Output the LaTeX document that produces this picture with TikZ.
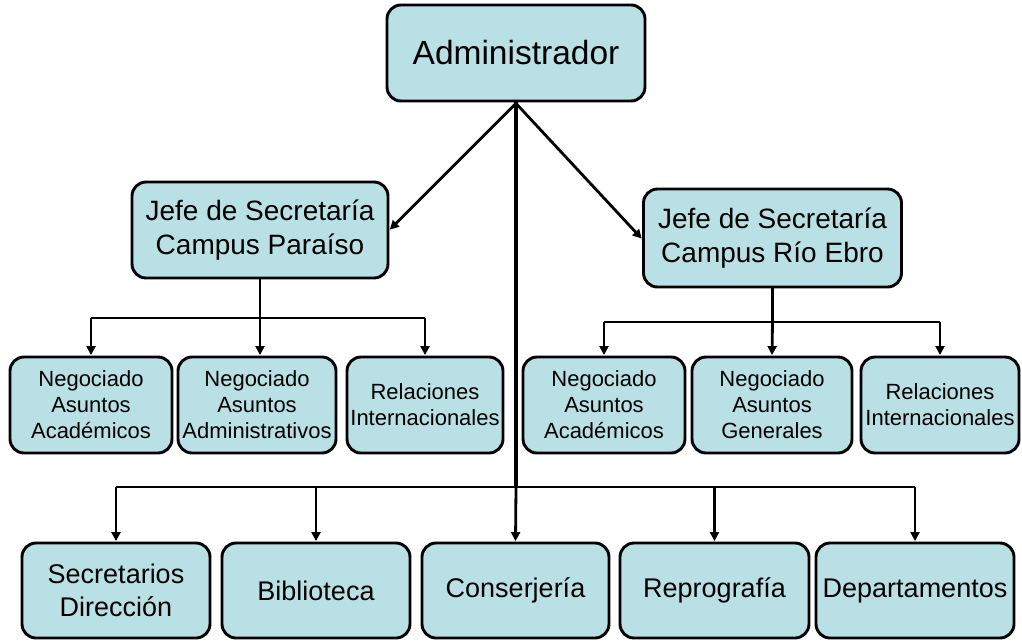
\documentclass[tikz,border=0pt]{standalone}
\usepackage{fontspec}
\setmainfont{Liberation Sans}
\usetikzlibrary{arrows.meta}
\definecolor{boxfill}{HTML}{B9E0E4}
\tikzset{
  box/.style={draw=black, fill=boxfill, line width=2.9pt, rounded corners=14pt,
    align=center, inner sep=0pt, text=black},
  conn/.style={draw=black, line width=2.8pt},
  arr/.style={conn, -{Triangle[length=9pt,width=9pt]}, shorten >=0.5pt},
  trunk/.style={draw=black, line width=3.8pt},
  big/.style={font=\fontsize{33.5}{40}\selectfont},
  mid/.style={font=\fontsize{28}{33.5}\selectfont},
  small/.style={font=\fontsize{22}{26}\selectfont},
  low/.style={font=\fontsize{27}{33}\selectfont},
}
\begin{document}
\begin{tikzpicture}[x=1pt,y=-1pt]
\useasboundingbox (0,0) rectangle (1022,641);
% top
\node[box,big,minimum width=258pt,minimum height=96pt] (admin) at (516,53) {Administrador};
\node[box,mid,minimum width=256pt,minimum height=96pt] (jp) at (260,230) {Jefe de Secretaría\\Campus Paraíso};
\node[box,mid,minimum width=258pt,minimum height=98pt] (je) at (772.5,238) {Jefe de Secretaría\\Campus Río Ebro};
% row 2 left
\node[box,small,minimum width=162pt,minimum height=96pt] (l1) at (91,405) {Negociado\\Asuntos\\Académicos};
\node[box,small,minimum width=158pt,minimum height=96pt] (l2) at (257,405) {Negociado\\Asuntos\\Administrativos};
\node[box,small,minimum width=156pt,minimum height=96pt] (l3) at (425,405) {Relaciones\\Internacionales};
% row 2 right
\node[box,small,minimum width=162pt,minimum height=96pt] (r1) at (604,405) {Negociado\\Asuntos\\Académicos};
\node[box,small,minimum width=160pt,minimum height=96pt] (r2) at (772,405) {Negociado\\Asuntos\\Generales};
\node[box,small,minimum width=158pt,minimum height=96pt] (r3) at (940,405) {Relaciones\\Internacionales};
% bottom row
\node[box,low,minimum width=188pt,minimum height=95pt] (b1) at (116,590.5) {Secretarios\\Dirección};
\node[box,low,minimum width=188pt,minimum height=95pt] (b2) at (316,590.5) {Biblioteca};
\node[box,low,minimum width=187pt,minimum height=95pt] (b3) at (515.5,590.5) {Conserjería};
\node[box,low,minimum width=189pt,minimum height=95pt] (b4) at (714.5,590.5) {Reprografía};
\node[box,low,minimum width=198pt,minimum height=95pt] (b5) at (915,590.5) {Departamentos};
% admin to jefes
\coordinate (as) at ([yshift=-1pt]admin.south);
\draw[arr] (as) -- (jp.east);
\draw[arr] (as) -- ([yshift=-1pt]je.west);
% trunk
\coordinate (tb) at (admin.south |- 0,487);
\draw[trunk] (admin.south) -- (tb);
\draw[conn] (tb -| b1.north) -- (tb -| b5.north);
\draw[arr] (tb -| b1.north) -- (b1.north);
\draw[arr] (tb -| b2.north) -- (b2.north);
\draw[arr] (tb) -- (b3.north);
\draw[arr] (tb -| b4.north) -- (b4.north);
\draw[arr] (tb -| b5.north) -- (b5.north);
% left group
\coordinate (lb) at (jp.south |- 0,318);
\draw[conn] (jp.south) -- (lb);
\draw[conn] (lb -| l1.north) -- (lb -| l3.north);
\draw[arr] (lb -| l1.north) -- (l1.north);
\draw[arr] (lb) -- (jp.south |- l2.north);
\draw[arr] (lb -| l3.north) -- (l3.north);
% right group
\coordinate (rb) at (je.south |- 0,322);
\draw[conn] (je.south) -- (rb);
\draw[conn] (rb -| r1.north) -- (rb -| r3.north);
\draw[arr] (rb -| r1.north) -- (r1.north);
\draw[arr] (rb) -- (r2.north);
\draw[arr] (rb -| r3.north) -- (r3.north);
\end{tikzpicture}
\end{document}
